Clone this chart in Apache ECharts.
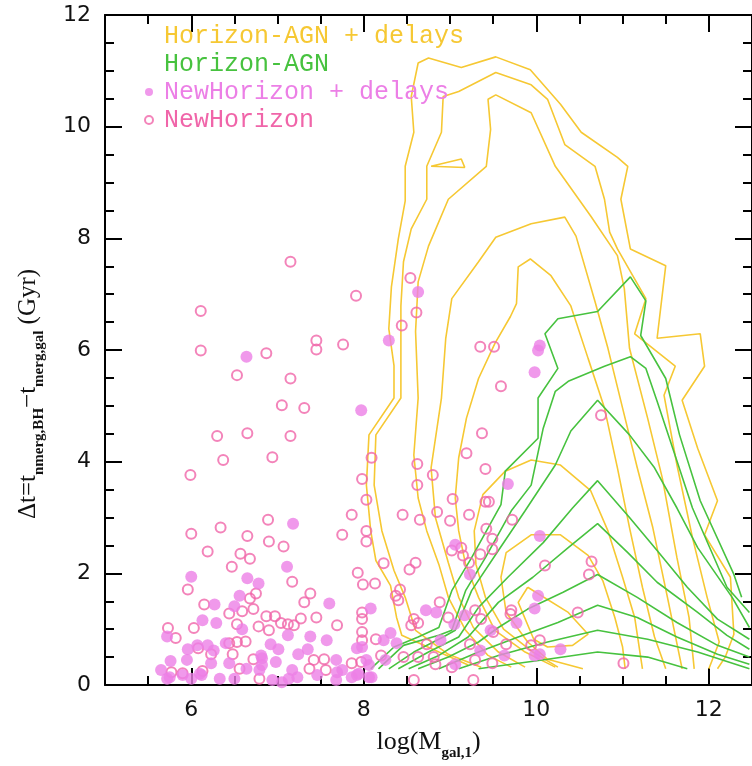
<!DOCTYPE html>
<html>
<head>
<meta charset="utf-8">
<script src="https://cdn.jsdelivr.net/npm/echarts@6/dist/echarts.min.js"></script>
<style>
  html, body { margin: 0; padding: 0; background: #fff; }
  #chart { width: 752px; height: 766px; }
</style>
</head>
<body>
<div id="chart"></div>
<script>
// axis ticks
const xMajor = [6, 8, 10, 12];

// Horizon-AGN + delays contours (log M, dt)
const yellow1 = [[9.21,0.36],[8.87,0.59],[8.44,0.89],[8.38,1.21],[8.31,1.78],[8.14,2.23],[8.08,2.76],[8.03,3.58],[8.06,4.48],[8.35,5.14],[8.35,5.72],[8.29,6.38],[8.32,7.13],[8.40,7.99],[8.48,8.67],[8.48,9.29],[8.58,9.90],[8.55,10.54],[8.63,11.14],[8.75,11.23],[9.13,11.06],[9.53,11.25],[9.93,11.02],[10.28,10.40],[10.52,9.90],[10.94,9.45],[11.06,9.29],[10.98,8.70],[11.09,7.81],[11.50,7.51],[11.40,6.21],[11.90,6.29],[11.95,5.71],[11.69,5.10],[11.87,4.24],[12.10,3.30],[11.95,2.69],[12.25,1.93],[12.29,0.91],[12.19,0.50],[12.10,0.29]];
const yellow2 = [[9.36,0.32],[8.98,0.55],[8.60,0.98],[8.48,1.57],[8.35,2.05],[8.21,2.76],[8.12,3.58],[8.14,4.48],[8.43,5.14],[8.43,6.79],[8.46,7.58],[8.55,8.17],[8.73,8.70],[8.73,9.29],[8.90,9.90],[8.92,10.54],[9.10,10.63],[9.53,10.97],[9.94,10.75],[10.13,10.49],[10.33,9.68],[10.68,9.29],[10.79,8.70],[10.85,8.11],[10.94,7.81],[11.27,6.92],[11.14,6.29],[11.61,5.71],[11.48,5.19],[11.63,3.94],[11.81,2.64],[11.98,1.57],[12.12,0.77],[12.00,0.29]];
const yellow3 = [[9.71,0.32],[9.44,0.53],[9.18,0.98],[8.98,1.57],[8.87,2.16],[8.73,2.76],[8.63,3.35],[8.58,4.12],[8.63,5.14],[8.60,6.33],[8.63,7.22],[8.75,7.86],[8.98,8.70],[9.42,9.29],[9.47,9.95],[9.44,10.49],[9.53,10.57],[9.94,10.25],[10.22,9.29],[10.63,8.40],[10.94,7.69],[11.02,7.10],[11.08,6.03],[11.29,4.78],[11.46,3.71],[11.63,2.28],[11.77,1.21],[11.83,0.29]];
const yellow4 = [[9.87,0.32],[9.56,0.59],[9.27,1.03],[9.10,1.57],[8.98,2.19],[8.83,3.00],[8.78,3.89],[8.90,5.14],[8.95,6.21],[9.02,6.92],[9.33,7.58],[9.53,8.02],[9.94,8.26],[10.33,8.38],[10.46,8.04],[10.68,6.87],[10.83,6.03],[11.00,4.96],[11.17,3.89],[11.35,2.82],[11.52,1.57],[11.69,0.29]];
const yellow5 = [[10.22,0.32],[9.87,0.59],[9.52,0.98],[9.33,1.57],[9.18,2.16],[9.10,2.76],[9.06,3.35],[9.10,4.07],[9.19,4.78],[9.33,5.49],[9.52,6.12],[9.70,6.60],[9.77,6.83],[9.79,7.49],[9.93,7.63],[10.17,7.33],[10.40,6.79],[10.60,5.85],[10.79,4.96],[10.94,3.89],[11.08,2.82],[11.23,1.75],[11.37,0.86],[11.50,0.29]];
const yellow6 = [[10.25,0.32],[9.96,0.59],[9.62,1.00],[9.41,1.57],[9.30,2.16],[9.28,2.76],[9.38,3.41],[9.64,3.83],[9.94,4.03],[10.28,3.94],[10.63,3.48],[10.83,2.76],[11.00,1.93],[11.14,1.21],[11.23,0.29]];
const yellow7 = [[10.54,0.29],[10.13,0.46],[9.90,0.77],[9.65,1.30],[9.59,1.93],[9.65,2.37],[9.94,2.69],[10.28,2.69],[10.60,2.32],[10.77,1.87],[10.91,1.21],[11.00,0.68],[11.03,0.29]];
const yellow8 = [[9.90,1.75],[10.37,1.30],[10.60,0.91],[10.42,0.71],[10.13,0.68],[9.97,0.82],[9.79,1.48],[9.90,1.75]];
const yellow9 = [[8.78,9.29],[9.13,9.42],[9.17,9.27],[8.78,9.29]];

// Horizon-AGN contours
const green1 = [[8.08,0.29],[8.35,0.68],[8.63,0.86],[8.87,1.03],[9.02,1.69],[9.25,2.28],[9.59,3.23],[9.64,3.83],[10.02,4.42],[10.02,5.14],[10.25,5.67],[10.10,6.29],[10.25,6.56],[10.71,6.69],[11.09,7.31],[11.27,6.88],[11.21,6.26],[11.50,5.49],[11.66,4.48],[11.90,3.30],[12.29,1.98],[12.38,1.57]];
const green2 = [[8.17,0.29],[8.46,0.71],[8.87,0.89],[9.02,0.98],[9.18,1.69],[9.41,2.28],[9.71,3.12],[9.94,3.58],[10.08,4.60],[10.22,5.26],[10.37,5.44],[10.79,5.71],[11.09,5.88],[11.27,5.67],[11.40,5.08],[11.63,4.01],[11.81,3.17],[12.21,1.75],[12.47,1.30]];
const green3 = [[8.29,0.29],[8.58,0.59],[8.92,0.86],[9.06,0.98],[9.25,1.69],[9.56,2.41],[9.87,3.12],[10.22,3.94],[10.40,4.55],[10.71,5.10],[11.08,4.48],[11.37,3.89],[11.63,3.17],[11.87,2.46],[12.27,1.57],[12.47,1.03]];
const green4 = [[8.40,0.29],[8.75,0.59],[9.10,0.86],[9.33,1.39],[9.67,1.93],[10.08,2.55],[10.42,3.17],[10.71,3.66],[11.08,3.00],[11.40,2.41],[11.75,1.75],[12.10,1.18],[12.47,0.82]];
const green5 = [[8.52,0.29],[8.87,0.53],[9.21,0.86],[9.56,1.48],[9.96,1.93],[10.37,2.46],[10.71,2.89],[11.06,2.37],[11.40,1.84],[11.87,1.30],[12.21,0.89],[12.47,0.64]];
const green6 = [[8.63,0.29],[8.98,0.50],[9.33,0.77],[9.56,1.03],[9.90,1.36],[10.31,1.66],[10.71,1.98],[11.17,1.57],[11.63,1.12],[12.10,0.71],[12.47,0.50]];
const green7 = [[8.87,0.29],[9.33,0.59],[9.79,0.86],[10.25,1.12],[10.71,1.43],[11.17,1.21],[11.63,0.86],[12.10,0.55],[12.47,0.37]];
const green8 = [[9.10,0.29],[9.56,0.53],[10.13,0.77],[10.71,0.98],[11.29,0.82],[11.87,0.59],[12.47,0.29]];
const green9 = [[9.33,0.29],[10.13,0.46],[10.71,0.59],[11.29,0.50],[11.75,0.29]];

// NewHorizon (open circles)
const newHorizon = [
  [7.15,7.58],[6.11,6.70],[6.11,5.99],[6.53,5.55],[6.87,5.94],[7.45,6.17],[7.45,6.01],[7.76,6.10],[7.91,6.97],[7.15,5.49],
  [7.05,5.01],[7.31,4.96],[6.30,4.46],[6.65,4.51],[7.15,4.46],[6.37,4.03],[5.99,3.76],[6.94,4.08],
  [6.00,2.71],[6.34,2.82],[6.65,2.67],[6.89,2.96],[6.90,2.57],[7.07,2.48],[6.19,2.39],[6.57,2.35],[6.68,2.26],[6.47,2.12],
  [7.17,1.85],[5.96,1.71],[6.15,1.44],[6.68,1.55],[6.75,1.64],[6.44,1.28],[6.59,1.32],[6.72,1.36],[6.87,1.23],[6.97,1.23],
  [7.31,1.48],[7.38,1.64],[7.45,1.21],[7.69,1.07],[7.75,2.69],[6.03,1.02],[5.73,1.02],[5.82,0.84],[6.53,1.09],[6.78,1.05],
  [6.90,0.98],[7.04,1.11],[7.12,1.09],[7.19,1.07],[7.27,1.19],[6.44,0.75],[6.53,0.77],[6.63,0.78],[6.48,0.55],[6.72,0.46],
  [6.08,0.66],[6.23,0.55],[6.13,0.25],[6.56,0.29],[6.79,0.11],[7.37,0.29],[7.42,0.45],[7.54,0.46],[5.77,0.23],[7.86,0.39],
  [7.97,0.41],[7.56,0.27],[5.90,0.21],[8.14,0.82],
  [8.61,6.67],[8.44,6.44],[8.54,7.29],[9.35,6.06],[9.51,6.06],[9.59,5.35],[10.75,4.83],[9.37,4.51],[9.19,4.15],[8.09,4.07],
  [8.62,3.96],[8.80,3.76],[9.41,3.87],[8.62,3.58],[7.98,3.69],[8.03,3.32],[9.03,3.33],[9.41,3.28],[9.45,3.28],[8.45,3.05],
  [8.65,2.96],[8.85,3.10],[9.00,2.94],[9.22,3.05],[9.72,2.96],[7.86,3.05],[8.03,2.76],[8.03,2.57],[9.42,2.80],[9.49,2.62],
  [9.49,2.43],[9.02,2.41],[9.13,2.46],[9.15,2.32],[9.22,2.19],[9.35,2.34],[8.60,2.19],[8.53,2.07],[8.23,2.18],[7.93,2.01],
  [7.99,1.80],[8.13,1.82],[10.10,2.14],[10.61,1.98],[10.64,2.21],[8.42,1.71],[8.37,1.60],[8.40,1.52],[8.88,1.48],[9.71,1.34],
  [9.70,1.27],[10.48,1.30],[7.98,1.30],[7.98,1.18],[7.98,0.95],[7.98,0.80],[8.58,1.18],[8.55,1.07],[8.63,1.11],[8.98,1.21],
  [9.29,1.34],[9.36,1.18],[9.50,0.95],[9.65,0.73],[8.73,0.73],[9.23,0.73],[9.94,0.71],[10.04,0.80],[8.20,0.53],[8.46,0.50],
  [8.63,0.50],[8.81,0.50],[8.83,0.37],[9.02,0.32],[9.29,0.45],[9.49,0.39],[8.58,0.09],[9.27,0.09],[11.01,0.39]
];

// NewHorizon + delays (filled circles)
const newHorizonDelays = [
  [6.64,5.88],[7.97,4.92],[8.29,6.17],[10.04,6.08],[10.02,5.99],[9.98,5.60],[9.67,3.60],[10.04,2.67],[7.18,2.89],[8.63,7.04],
  [9.06,2.51],[9.23,1.98],[10.02,1.60],[9.98,1.37],[9.77,1.11],[8.08,1.37],[8.72,1.34],[8.84,1.30],[9.17,1.25],[9.05,1.09],
  [9.47,0.98],[8.31,0.93],[8.23,0.80],[8.38,0.75],[8.89,0.80],[9.35,0.62],[9.63,0.53],[9.98,0.53],[10.04,0.55],[10.28,0.64],
  [8.25,0.45],[8.03,0.45],[8.06,0.36],[9.06,0.37],[7.92,0.18],[8.09,0.14],[7.86,0.14],
  [6.00,1.94],[7.11,2.12],[6.65,1.91],[6.78,1.82],[6.56,1.60],[6.50,1.41],[6.27,1.44],[6.13,1.16],[6.29,1.11],[6.59,1.00],
  [7.60,1.46],[7.12,0.89],[7.38,0.87],[7.57,0.80],[5.72,0.87],[5.96,0.64],[6.07,0.71],[6.19,0.71],[6.26,0.62],[6.40,0.75],
  [6.92,0.73],[7.01,0.64],[7.35,0.64],[5.76,0.43],[5.95,0.45],[6.23,0.39],[6.44,0.39],[6.82,0.48],[7.24,0.55],[7.68,0.45],
  [5.65,0.27],[5.90,0.18],[6.10,0.20],[6.64,0.29],[6.98,0.41],[7.17,0.27],[7.46,0.18],[7.75,0.27],[5.72,0.11],[6.00,0.11],
  [6.33,0.11],[6.50,0.11],[6.94,0.09],[7.13,0.11],[7.68,0.09],[7.98,0.68],[7.92,0.66],[5.75,0.14],[6.12,0.18],[6.79,0.27],
  [7.23,0.14],[7.69,0.23],[7.94,0.20],[8.06,0.14],[7.05,0.05],[6.81,0.53],[6.82,0.36]
];

const yellowLines = [yellow1, yellow2, yellow3, yellow4, yellow5, yellow6, yellow7, yellow8, yellow9];
const greenLines = [green1, green2, green3, green4, green5, green6, green7, green8, green9];

const YELLOW = '#F6C833';
const GREEN = '#47C23F';
const VIOLET = '#EC7FE6';
const PINK = '#F065A9';

const chart = echarts.init(document.getElementById('chart'));

const lineSeries = (name, color, d) => ({
  type: 'line',
  name: name,
  data: d,
  symbol: 'none',
  showSymbol: false,
  lineStyle: { color: color, width: 1.6 },
  itemStyle: { color: color },
  silent: true,
  z: 2
});

const series = [];
yellowLines.forEach(d => series.push(lineSeries('Horizon-AGN + delays', YELLOW, d)));
greenLines.forEach(d => series.push(lineSeries('Horizon-AGN', GREEN, d)));
series.push({
  type: 'scatter',
  name: 'NewHorizon',
  data: newHorizon,
  symbol: 'circle',
  symbolSize: 10,
  itemStyle: { color: 'rgba(255,255,255,0)', borderColor: PINK, borderWidth: 2 },
  z: 3
});
series.push({
  type: 'scatter',
  name: 'NewHorizon + delays',
  data: newHorizonDelays,
  symbol: 'circle',
  symbolSize: 12,
  itemStyle: { color: VIOLET },
  z: 4
});

const tickLine = { color: '#000', width: 2 };
const baseX = {
  type: 'value', min: 5, max: 12.5, splitLine: { show: false }
};
const baseY = {
  type: 'value', min: 0, max: 12, interval: 2, splitLine: { show: false }
};

chart.setOption({
  animation: false,
  backgroundColor: '#fff',
  grid: { left: 105, top: 15, width: 650, height: 673 },
  legend: {
    orient: 'vertical',
    left: 144,
    top: 22,
    padding: 0,
    itemGap: 0,
    itemWidth: 8,
    itemHeight: 8,
    selectedMode: false,
    textStyle: { fontFamily: 'Liberation Mono', fontSize: 25, lineHeight: 28, padding: [0, 0, 0, 6] },
    data: [
      { name: 'Horizon-AGN + delays', icon: 'circle', itemStyle: { opacity: 0 }, textStyle: { color: YELLOW } },
      { name: 'Horizon-AGN', icon: 'circle', itemStyle: { opacity: 0 }, textStyle: { color: GREEN } },
      { name: 'NewHorizon + delays', icon: 'circle', textStyle: { color: VIOLET } },
      { name: 'NewHorizon', icon: 'circle', textStyle: { color: PINK } }
    ]
  },
  xAxis: [
    Object.assign({}, baseX, {
      position: 'bottom',
      interval: 0.5,
      axisLine: { show: true, lineStyle: tickLine },
      axisTick: { show: true, inside: true, length: 9, lineStyle: tickLine },
      axisLabel: { customValues: xMajor, fontFamily: 'DejaVu Sans', fontSize: 22, color: '#111', margin: 14 },
      name: '{m|log(M}{s|gal,1}{m|)}',
      nameLocation: 'middle',
      nameGap: 44,
      nameTextStyle: {
        rich: {
          m: { fontFamily: 'Liberation Serif', fontSize: 26, color: '#111', verticalAlign: 'bottom', padding: [0, 0, 6, 0] },
          s: { fontFamily: 'Liberation Serif', fontSize: 15, fontWeight: 'bold', color: '#111', verticalAlign: 'bottom' }
        }
      }
    }),
    Object.assign({}, baseX, {
      position: 'bottom',
      axisLine: { show: false },
      axisTick: { show: true, inside: true, length: 17, customValues: xMajor, lineStyle: tickLine },
      axisLabel: { show: false }
    }),
    Object.assign({}, baseX, {
      position: 'top',
      interval: 0.5,
      axisLine: { show: true, lineStyle: tickLine },
      axisTick: { show: true, inside: true, length: 9, lineStyle: tickLine },
      axisLabel: { show: false }
    }),
    Object.assign({}, baseX, {
      position: 'top',
      axisLine: { show: false },
      axisTick: { show: true, inside: true, length: 17, customValues: xMajor, lineStyle: tickLine },
      axisLabel: { show: false }
    })
  ],
  yAxis: [
    Object.assign({}, baseY, {
      position: 'left',
      axisLine: { show: true, lineStyle: tickLine },
      axisTick: { show: true, inside: true, length: 17, lineStyle: tickLine },
      minorTick: { show: true, splitNumber: 4, length: 9, lineStyle: tickLine },
      minorSplitLine: { show: false },
      axisLabel: { fontFamily: 'DejaVu Sans', fontSize: 22, color: '#111', margin: 14 },
      name: '{m|Δt=t}{s|nmerg,BH}{m|−t}{s|merg,gal}{m| (Gyr)}',
      nameLocation: 'middle',
      nameRotate: 90,
      nameGap: 58,
      nameTextStyle: {
        padding: [0, 88, 0, 0],
        rich: {
          m: { fontFamily: 'Liberation Serif', fontSize: 25, color: '#111', verticalAlign: 'bottom', padding: [0, 0, 6, 0] },
          s: { fontFamily: 'Liberation Serif', fontSize: 15, fontWeight: 'bold', color: '#111', verticalAlign: 'bottom' }
        }
      }
    }),
    Object.assign({}, baseY, {
      position: 'right',
      axisLine: { show: true, lineStyle: tickLine },
      axisTick: { show: true, inside: true, length: 17, lineStyle: tickLine },
      minorTick: { show: true, splitNumber: 4, length: 9, lineStyle: tickLine },
      minorSplitLine: { show: false },
      axisLabel: { show: false }
    })
  ],
  series: series
});
</script>
</body>
</html>
